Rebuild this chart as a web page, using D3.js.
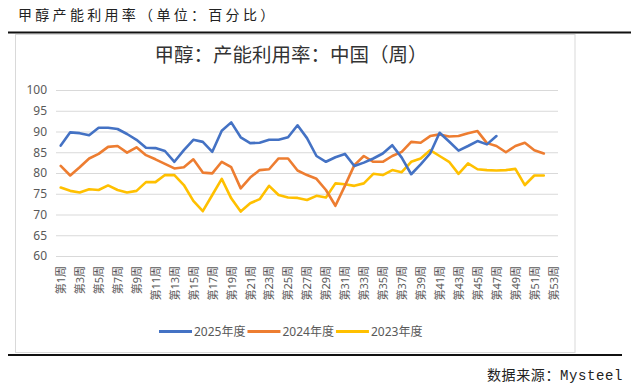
<!DOCTYPE html>
<html>
<head>
<meta charset="utf-8">
<script src="https://cdn.jsdelivr.net/npm/d3@7"></script>
<style>
  html, body { margin: 0; padding: 0; background: #fff; }
  svg { display: block; }
</style>
</head>
<body>
<svg id="chart" width="631" height="392"></svg>
<script>
// 甲醇产能利用率 weekly, three seasons
const weeks = d3.range(1, 54).map(i => '第' + i + '周');
const tickWeeks = weeks.filter((w, i) => i % 2 === 0);
const yTicks = [60, 65, 70, 75, 80, 85, 90, 95, 100];
const seriesNames = ['2025年度', '2024年度', '2023年度'];
const seriesColors = ['#4472c4', '#ed7d31', '#ffc000'];
const s2025 = [86.6, 89.8, 89.6, 89.1, 90.9, 90.9, 90.6, 89.4, 88.0, 86.1,
  86.0, 85.3, 82.7, 85.5, 88.0, 87.5, 85.1, 90.2, 92.2, 88.6,
  87.2, 87.3, 88.0, 88.0, 88.6, 91.5, 88.4, 84.1, 82.7, 83.8,
  84.6, 81.7, 82.5, 83.5, 84.7, 86.7, 83.7, 79.7, 82.1, 84.7,
  89.7, 87.6, 85.4, 86.5, 87.7, 86.9, 88.9];
const s2024 = [81.7, 79.4, 81.4, 83.5, 84.6, 86.3, 86.5, 84.9, 86.2, 84.3,
  83.3, 82.2, 81.1, 81.4, 83.3, 80.1, 79.9, 82.7, 81.4, 76.3,
  78.9, 80.7, 80.9, 83.5, 83.5, 80.6, 79.5, 78.6, 75.9, 72.1,
  76.9, 81.9, 84.1, 82.7, 82.7, 84.1, 85.1, 87.5, 87.3, 88.9,
  89.3, 88.8, 88.9, 89.6, 90.1, 87.2, 86.5, 85.0, 86.5, 87.3,
  85.5, 84.7];
const s2023 = [76.5, 75.7, 75.3, 76.1, 75.9, 77.0, 75.9, 75.3, 75.7, 77.8,
  77.8, 79.5, 79.5, 77.1, 73.3, 70.8, 74.7, 78.6, 73.9, 70.7,
  72.7, 73.7, 76.9, 74.7, 74.1, 74.0, 73.5, 74.5, 74.1, 77.5,
  77.3, 76.9, 77.5, 79.8, 79.5, 80.7, 80.2, 82.7, 83.5, 85.5,
  84.1, 82.7, 79.8, 82.3, 80.9, 80.7, 80.6, 80.7, 81.0, 77.1,
  79.4, 79.4];
const seriesValues = [s2025, s2024, s2023];

const svg = d3.select('#chart');
const cjk = '"Noto Sans", "Noto Sans CJK SC", sans-serif';

// page heading + rules
svg.append('text').attr('x', 18).attr('y', 20).attr('font-size', 14).attr('letter-spacing', 3.3)
  .attr('font-family', '"Noto Sans CJK SC", sans-serif').attr('fill', '#222')
  .text('甲醇产能利用率（单位：百分比）');
svg.append('line').attr('x1', 8).attr('x2', 631).attr('y1', 32.5).attr('y2', 32.5)
  .attr('stroke', '#111').attr('stroke-width', 2);
svg.append('rect').attr('x', 15.5).attr('y', 34.5).attr('width', 559.5).attr('height', 318)
  .attr('fill', '#fff').attr('stroke', '#d9d9d9');
svg.append('line').attr('x1', 8).attr('x2', 622).attr('y1', 355).attr('y2', 355)
  .attr('stroke', '#111').attr('stroke-width', 2);
svg.append('text').attr('x', 623).attr('y', 380).attr('text-anchor', 'end').attr('font-size', 14)
  .attr('letter-spacing', 0.6).attr('font-family', '"Liberation Mono", "Noto Sans CJK SC", monospace')
  .attr('fill', '#222').text('数据来源：Mysteel');

// chart title
svg.append('text').attr('x', 291).attr('y', 62).attr('text-anchor', 'middle').attr('font-size', 19.5)
  .attr('font-family', '"Noto Sans CJK SC", sans-serif').attr('fill', '#333')
  .text('甲醇：产能利用率：中国（周）');

const x = d3.scalePoint().domain(weeks).range([56, 558]).padding(0.5);
const y = d3.scaleLinear().domain([60, 100]).range([256, 90]);

// gridlines + y labels
const yAxis = svg.append('g').attr('transform', 'translate(56,0)')
  .call(d3.axisLeft(y).tickValues(yTicks).tickSize(-502).tickPadding(9));
yAxis.select('.domain').remove();
yAxis.selectAll('line').attr('stroke', '#d9d9d9');
yAxis.selectAll('text').attr('font-size', 12).attr('font-family', cjk).attr('fill', '#595959');

// x labels, rotated
const xAxis = svg.append('g').attr('transform', 'translate(0,256)')
  .call(d3.axisBottom(x).tickValues(tickWeeks).tickSize(0));
xAxis.select('.domain').remove();
xAxis.selectAll('text').attr('font-size', 11).attr('font-family', cjk).attr('fill', '#595959')
  .attr('text-anchor', 'end').attr('transform', 'rotate(-90)')
  .attr('x', -10).attr('y', 0).attr('dy', '0.35em');

// series lines
const line = d3.line().x((d, i) => x(weeks[i])).y(d => y(d));
seriesValues.slice().reverse().forEach((vals, k) => {
  const idx = seriesValues.length - 1 - k;
  svg.append('path').datum(vals).attr('d', line).attr('fill', 'none')
    .attr('stroke', seriesColors[idx]).attr('stroke-width', 2.6)
    .attr('stroke-linejoin', 'round').attr('stroke-linecap', 'round');
});

// legend
let lx = 159;
const ly = 331.5;
seriesNames.forEach((name, i) => {
  svg.append('line').attr('x1', lx).attr('x2', lx + 33).attr('y1', ly).attr('y2', ly)
    .attr('stroke', seriesColors[i]).attr('stroke-width', 3);
  const t = svg.append('text').attr('x', lx + 35).attr('y', ly).attr('dy', '0.35em')
    .attr('font-size', 12).attr('font-family', cjk).attr('fill', '#595959').text(name);
  lx += 35 + t.node().getComputedTextLength() + 2;
});
</script>
</body>
</html>
